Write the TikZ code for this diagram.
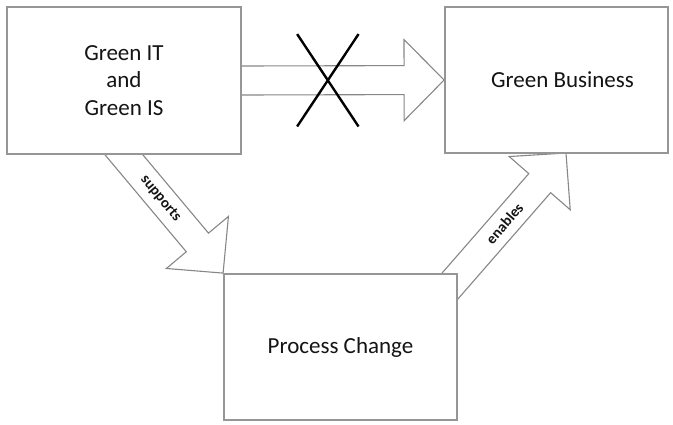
\documentclass[tikz,border=0pt]{standalone}
\usepackage{fontspec}
\setmainfont{Carlito}
\usetikzlibrary{calc,shapes.misc,backgrounds}

\definecolor{boxgray}{RGB}{150,150,150}
\definecolor{arrowgray}{RGB}{135,135,135}
\definecolor{textdark}{RGB}{20,20,20}

\tikzset{
	box/.style={draw=boxgray, line width=1.8pt, fill=white, inner sep=0pt,
		align=center, text=textdark, font=\fontsize{23}{27.5}\selectfont},
	arrowlabel/.style={sloped, inner sep=0pt, text=textdark,
		font=\fontsize{15}{18}\selectfont\bfseries},
	% block arrow: shaft starts a bit behind the start point, tip at the target
	blockarrow/.style={draw=arrowgray, line width=1.1pt, fill=white, line join=miter,
		to path={
			($($(\tikztostart)!-15pt!(\tikztotarget)$)!14.5pt!90:(\tikztotarget)$)
			-- ($($(\tikztotarget)!40pt!(\tikztostart)$)!14.5pt!-90:(\tikztostart)$)
			-- ($($(\tikztotarget)!40pt!(\tikztostart)$)!40.5pt!-90:(\tikztostart)$)
			-- (\tikztotarget)
			-- ($($(\tikztotarget)!40pt!(\tikztostart)$)!40.5pt!90:(\tikztostart)$)
			-- ($($(\tikztotarget)!40pt!(\tikztostart)$)!14.5pt!90:(\tikztostart)$)
			-- ($($(\tikztostart)!-15pt!(\tikztotarget)$)!14.5pt!-90:(\tikztotarget)$)
			-- cycle}},
}

\begin{document}
\begin{tikzpicture}[x=1pt, y=-1pt]
	\useasboundingbox (0,0) rectangle (673,424);

	% the three boxes
	\node[box, minimum width=234pt, minimum height=147pt] (greenit) at (124,80.5) {Green IT\\and\\Green IS};
	\node[box, minimum width=223pt, minimum height=146pt] (greenbiz) at (556.5,80) {\hspace*{12pt}Green Business};
	\node[box, minimum width=233pt, minimum height=146pt] (process) at (340.5,347) {Process Change};

	\coordinate (enables start) at (450,286);
	\coordinate (enables tip) at (566,153);

	% block arrows behind the boxes
	\begin{scope}[on background layer]
		\draw[blockarrow] (greenit.east) to (greenbiz.west);
		\draw[blockarrow] (greenit.south) to (process.north west);
		\draw[blockarrow] (enables start) to (enables tip);
		\path (greenit.south) -- node[arrowlabel, pos=0.37] {supports} (process.north west);
		\path (enables start) -- node[arrowlabel, pos=0.47] {enables} (enables tip);
	\end{scope}

	% crossed out link
	\node[cross out, draw=black, line width=2.4pt, inner sep=0pt,
		minimum width=59pt, minimum height=90pt] (nogo)
		at ($(greenit.east)!0.425!(greenbiz.west)$) {};
\end{tikzpicture}
\end{document}
